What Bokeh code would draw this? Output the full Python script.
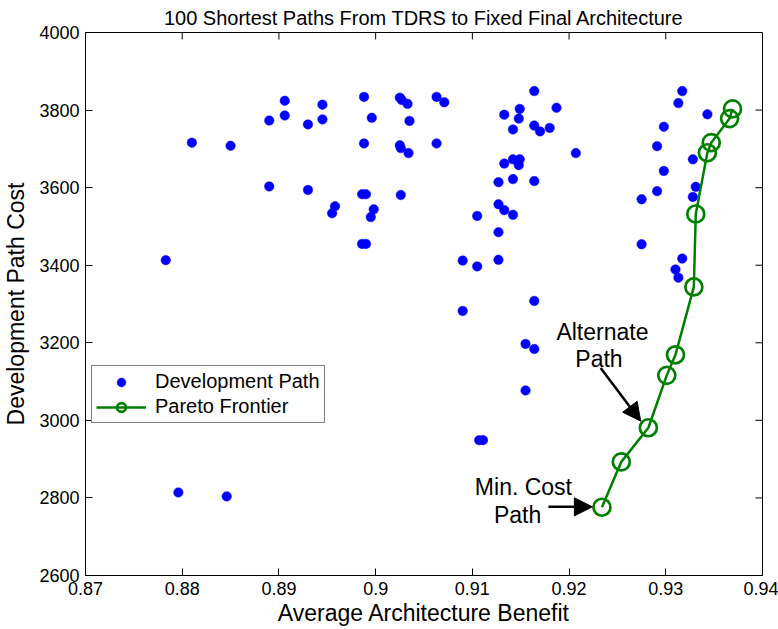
from bokeh.plotting import figure
from bokeh.models import (Range1d, FixedTicker, Legend, LegendItem,
                          Label, Arrow, NormalHead)
from bokeh.embed import file_html
from bokeh.resources import INLINE

# ---------------- data ----------------
dev_x = [0.8906, 0.8906, 0.8890, 0.8930, 0.8945, 0.8945, 0.8988, 0.8996, 0.9025, 0.9027,
         0.9033, 0.9035, 0.8810, 0.8850, 0.8988, 0.9025, 0.9026, 0.9034, 0.8890, 0.8930,
         0.8958, 0.8955, 0.8986, 0.8990, 0.9026, 0.8998, 0.8995, 0.8986, 0.8990, 0.8783,
         0.9063, 0.9071, 0.9063, 0.9164, 0.9133, 0.9149, 0.9148, 0.9142, 0.9164, 0.9170,
         0.9180, 0.9187, 0.9207, 0.9133, 0.9142, 0.9149, 0.9148, 0.9127, 0.9142, 0.9164,
         0.9127, 0.9133, 0.9142, 0.9105, 0.9127, 0.9090, 0.9105, 0.9127,
         0.9317, 0.9313, 0.9343, 0.9298, 0.9291, 0.9328, 0.9298, 0.9291, 0.9275, 0.9331,
         0.9328, 0.9275, 0.9317, 0.9310, 0.9313,
         0.9090, 0.9164, 0.9155, 0.9164, 0.9155, 0.9107, 0.9111,
         0.8796, 0.8846]
dev_y = [3824, 3786, 3773, 3763, 3814, 3776, 3834, 3780, 3832, 3826,
         3816, 3772, 3716, 3708, 3714, 3709, 3702, 3689, 3603, 3594,
         3552, 3534, 3583, 3583, 3581, 3544, 3524, 3455, 3455, 3413,
         3834, 3820, 3714, 3849, 3788, 3803, 3778, 3750, 3760, 3745,
         3754, 3806, 3689, 3662, 3673, 3673, 3658, 3614, 3622, 3617,
         3557, 3542, 3530, 3527, 3485, 3412, 3397, 3414,
         3849, 3818, 3789, 3757, 3707, 3673, 3643, 3591, 3570, 3602,
         3576, 3454, 3417, 3389, 3368,
         3282, 3308, 3197, 3184, 3077, 2949, 2949,
         2814, 2804]

pareto_x = [0.9234, 0.9254, 0.9282, 0.9301, 0.9310, 0.9329, 0.9331, 0.9343, 0.9347, 0.9366, 0.9369]
pareto_y = [2776, 2893, 2981, 3116, 3169, 3344, 3532, 3690, 3716, 3778, 3803]

x_ticks = [0.87, 0.88, 0.89, 0.9, 0.91, 0.92, 0.93, 0.94]
x_tick_labels = ["0.87", "0.88", "0.89", "0.9", "0.91", "0.92", "0.93", "0.94"]
y_ticks = [2600, 2800, 3000, 3200, 3400, 3600, 3800, 4000]
y_tick_labels = ["2600", "2800", "3000", "3200", "3400", "3600", "3800", "4000"]

FONT = "Liberation Sans"
X0, X1 = 0.87, 0.94
Y0, Y1 = 2600, 4000

# ---------------- figure ----------------
p = figure(width=778, height=629, output_backend="svg", toolbar_location=None,
           x_range=Range1d(X0, X1), y_range=Range1d(Y0, Y1),
           min_border_left=85, min_border_right=16, min_border_top=31, min_border_bottom=54,
           title="100 Shortest Paths From TDRS to Fixed Final Architecture")
p.background_fill_color = "white"
p.border_fill_color = "white"
p.outline_line_color = "black"
p.outline_line_width = 1
p.xgrid.visible = False
p.ygrid.visible = False

p.title.text_font = FONT
p.title.text_font_size = "20px"
p.title.text_font_style = "normal"
p.title.text_color = "black"
p.title.align = "center"
p.title.standoff = 8

def style_axis(ax):
    ax.axis_line_color = "black"
    ax.major_tick_line_color = "black"
    ax.major_tick_in = 7
    ax.major_tick_out = 0
    ax.minor_tick_in = 0
    ax.minor_tick_out = 0
    ax.major_label_text_font = FONT
    ax.major_label_text_font_size = "18px"
    ax.major_label_text_color = "black"
    ax.axis_label_text_font = FONT
    ax.axis_label_text_font_size = "23px"
    ax.axis_label_text_font_style = "normal"
    ax.axis_label_text_color = "black"

xa = p.xaxis[0]
ya = p.yaxis[0]
xa.ticker = FixedTicker(ticks=x_ticks)
xa.major_label_overrides = dict(zip(x_ticks, x_tick_labels))
ya.ticker = FixedTicker(ticks=y_ticks)
ya.major_label_overrides = dict(zip(y_ticks, y_tick_labels))
style_axis(xa)
style_axis(ya)
xa.axis_label = "Average Architecture Benefit"
ya.axis_label = "Development Path Cost"
xa.major_label_standoff = 6
xa.axis_label_standoff = 2
ya.major_label_standoff = 6
ya.axis_label_standoff = 7

# inward ticks on the top and right edges of the box (MATLAB style)
tick_len_y = (Y1 - Y0) * 7 / 544
tick_len_x = (X1 - X0) * 7 / 677
p.segment(x0=x_ticks, y0=[Y1] * len(x_ticks), x1=x_ticks, y1=[Y1 - tick_len_y] * len(x_ticks),
          line_color="black", line_width=1)
p.segment(x0=[X1] * len(y_ticks), y0=y_ticks, x1=[X1 - tick_len_x] * len(y_ticks), y1=y_ticks,
          line_color="black", line_width=1)

# ---------------- glyphs ----------------
dev_r = p.scatter(dev_x, dev_y, marker="circle", size=9.5,
                  fill_color="#0000ff", line_color="#0000ff", line_width=0.5)
line_r = p.line(pareto_x, pareto_y, line_color="#008000", line_width=2.5)
circ_r = p.scatter(pareto_x, pareto_y, marker="circle", size=17,
                   fill_color=None, line_color="#008000", line_width=2.7)

# ---------------- legend ----------------
legend = Legend(items=[LegendItem(label="Development Path", renderers=[dev_r]),
                       LegendItem(label="Pareto Frontier", renderers=[line_r, circ_r])],
                location=(6, 152), margin=0, padding=4, spacing=2,
                glyph_width=50, glyph_height=22, label_height=22, label_standoff=9,
                label_text_font=FONT, label_text_font_size="20px", label_text_color="black",
                border_line_color="black", border_line_width=1,
                background_fill_color="white", background_fill_alpha=1)
p.add_layout(legend)

# ---------------- annotations ----------------
def txt(x, y, s):
    p.add_layout(Label(x=x, y=y, text=s, text_align="center", text_baseline="alphabetic",
                       text_font=FONT, text_font_size="23px", text_color="black"))

txt(0.92345, 3229, "Alternate")
txt(0.92309, 3159, "Path")
txt(0.91528, 2827, "Min. Cost")
txt(0.91468, 2757, "Path")

p.add_layout(Arrow(end=NormalHead(size=18, fill_color="black", line_color="black"),
                   x_start=0.92327, y_start=3135, x_end=0.92741, y_end=2998,
                   line_width=2.5, line_color="black"))
p.add_layout(Arrow(end=NormalHead(size=18, fill_color="black", line_color="black"),
                   x_start=0.91786, y_start=2777, x_end=0.92241, y_end=2777,
                   line_width=2.5, line_color="black"))

open("out.html", "w").write(file_html(p, INLINE))
